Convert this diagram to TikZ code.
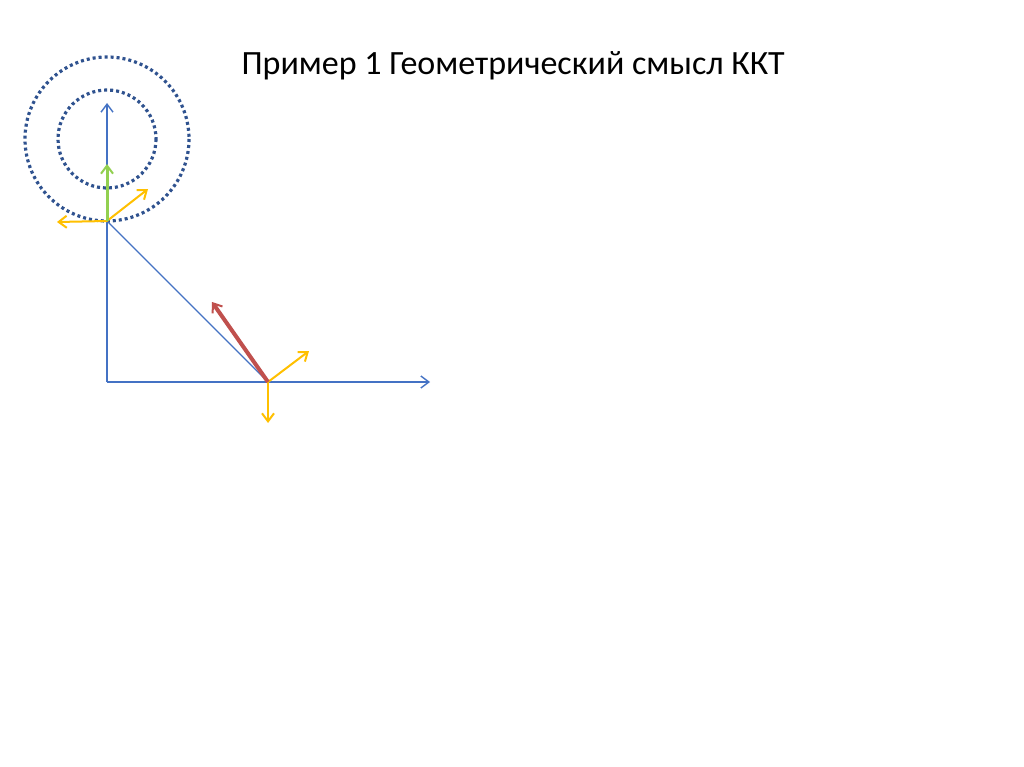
\documentclass[tikz,border=0pt]{standalone}
\usepackage{fontspec}
\setmainfont{Carlito}
\usetikzlibrary{arrows.meta}
\definecolor{axisblue}{RGB}{68,114,196}
\definecolor{levelblue}{RGB}{47,82,143}
\definecolor{gradgreen}{RGB}{146,208,80}
\definecolor{gradyellow}{RGB}{255,192,0}
\definecolor{gradred}{RGB}{192,80,77}
\begin{document}
\begin{tikzpicture}[x=1pt, y=-1pt,
    axis/.style={draw=axisblue, line width=1.4pt, -{Straight Barb[length=8pt, width=12pt, line width=1.4pt]}},
    level/.style={draw=levelblue, line width=3.2pt, dash pattern=on 3pt off 3pt},
    grad/.style={line width=2pt, -{Straight Barb[length=8pt, width=12pt, line width=2pt]}}]
    \fill[white] (0,0) rectangle (1024,767);
    \useasboundingbox (0,0) rectangle (1024,767);
    \node[anchor=base, font=\fontsize{34}{41}\selectfont] (title) at (513,75) {Пример 1 Геометрический смысл ККТ};
    % axes
    \coordinate (O) at (107,382);
    \coordinate (ytip) at (107,103);
    \coordinate (xtip) at (430,382);
    \coordinate (A) at (107,221);
    \coordinate (B) at (268,382);
    \coordinate (C) at (107,139);
    % level lines
    \draw[level] (C) circle (49);
    \draw[level] (C) circle (82);
    \draw[axis] (O) -- (ytip);
    \draw[axis] (O) -- (xtip);
    \draw[draw=axisblue, line width=1.3pt] (A) -- (B);
    % gradients at A
    \coordinate (Agreen) at (107,164);
    \coordinate (Aleft) at (57,222);
    \coordinate (Aup) at (148,189);
    \draw[grad, draw=gradyellow] (A) -- (Aleft);
    \draw[grad, draw=gradyellow] (A) -- (Aup);
    \draw[grad, draw=gradgreen, line width=3pt] (A) -- (Agreen);
    % gradients at B
    \coordinate (Bred) at (212,302);
    \coordinate (Bup) at (309,351);
    \coordinate (Bdown) at (268,423);
    \draw[grad, draw=gradyellow] (B) -- (Bup);
    \draw[grad, draw=gradyellow] (B) -- (Bdown);
    \draw[grad, draw=gradred, line width=4pt] (B) -- (Bred);
\end{tikzpicture}
\end{document}
